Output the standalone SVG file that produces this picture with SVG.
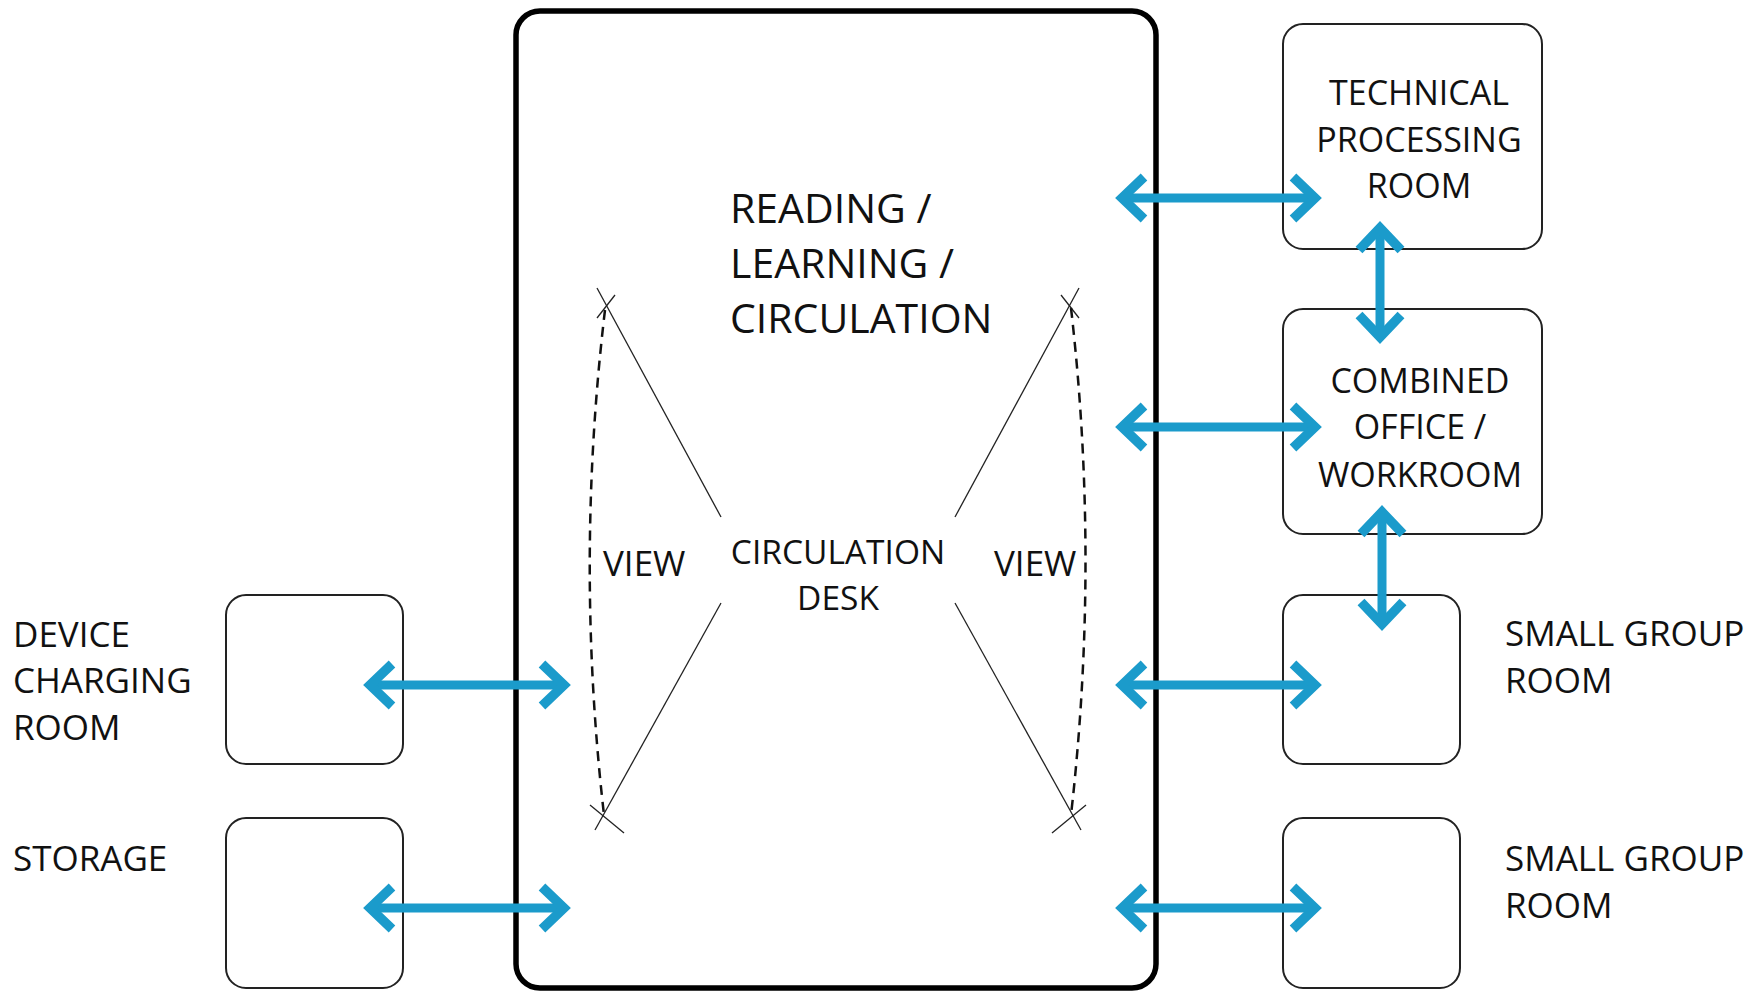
<svg xmlns="http://www.w3.org/2000/svg" width="1760" height="993" viewBox="0 0 1760 993">
<style>
  .room { fill: #ffffff; stroke: #222222; stroke-width: 2; }
  .main { fill: #ffffff; stroke: #000000; stroke-width: 5.5; }
  .lbl { font-family: "Open Sans", "Liberation Sans", sans-serif; fill: #111111; }
  .big { font-size: 41px; }
  .mid { font-size: 34px; }
  .sm { font-size: 35px; }
  .desk { font-size: 33.5px; }
  .link { stroke: #1b9bcb; stroke-width: 9; fill: none; marker-start: url(#chev); marker-end: url(#chev); }
  .sight { stroke: #222222; stroke-width: 1.3; fill: none; }
  .arc { stroke: #111111; stroke-width: 2.5; fill: none; stroke-dasharray: 10 7; }
</style>
<defs>
  <marker id="chev" markerUnits="userSpaceOnUse" viewBox="-40 -30 60 60" refX="0" refY="0" markerWidth="60" markerHeight="60" orient="auto-start-reverse" overflow="visible">
    <path d="M-22,-21 L0,0 L-22,21" fill="none" stroke="#1b9bcb" stroke-width="9.5" stroke-linejoin="miter" stroke-linecap="butt"/>
  </marker>
</defs>
<rect width="1760" height="993" fill="#ffffff"/>

<g id="reading-learning-circulation">
  <rect class="main" x="516" y="11" width="640" height="977" rx="24"/>
  <text class="lbl big" x="730" y="223">READING /</text>
  <text class="lbl big" x="730" y="278">LEARNING /</text>
  <text class="lbl big" x="730" y="333">CIRCULATION</text>
</g>

<g id="circulation-desk">
  <text class="lbl desk" x="838" y="564" text-anchor="middle">CIRCULATION</text>
  <text class="lbl desk" x="838" y="610" text-anchor="middle">DESK</text>
</g>

<g id="view-left">
  <path class="sight" d="M597,288 L721,517"/>
  <path class="sight" d="M721,603 L595,830"/>
  <path class="sight" d="M615,295 L597,318"/>
  <path class="sight" d="M590,805 L624,833"/>
  <path class="arc" d="M605,310 Q575,562 604,815"/>
  <text class="lbl sm" x="603" y="576">VIEW</text>
</g>

<g id="view-right">
  <path class="sight" d="M1079,288 L955,517"/>
  <path class="sight" d="M955,603 L1081,830"/>
  <path class="sight" d="M1061,295 L1079,318"/>
  <path class="sight" d="M1086,805 L1052,833"/>
  <path class="arc" d="M1071,308 Q1100,560 1071,815"/>
  <text class="lbl sm" x="994" y="576">VIEW</text>
</g>

<g id="technical-processing-room">
  <rect class="room" x="1283" y="24" width="259" height="225" rx="20"/>
  <text class="lbl mid" x="1419" y="105" text-anchor="middle">TECHNICAL</text>
  <text class="lbl mid" x="1419" y="152" text-anchor="middle">PROCESSING</text>
  <text class="lbl mid" x="1419" y="198" text-anchor="middle">ROOM</text>
</g>

<g id="combined-office-workroom">
  <rect class="room" x="1283" y="309" width="259" height="225" rx="20"/>
  <text class="lbl mid" x="1420" y="393" text-anchor="middle">COMBINED</text>
  <text class="lbl mid" x="1420" y="439" text-anchor="middle">OFFICE /</text>
  <text class="lbl mid" x="1420" y="487" text-anchor="middle">WORKROOM</text>
</g>

<g id="small-group-room-1">
  <rect class="room" x="1283" y="595" width="177" height="169" rx="20"/>
  <text class="lbl sm" x="1505" y="646">SMALL GROUP</text>
  <text class="lbl sm" x="1505" y="693">ROOM</text>
</g>

<g id="small-group-room-2">
  <rect class="room" x="1283" y="818" width="177" height="170" rx="20"/>
  <text class="lbl sm" x="1505" y="871">SMALL GROUP</text>
  <text class="lbl sm" x="1505" y="918">ROOM</text>
</g>

<g id="device-charging-room">
  <rect class="room" x="226" y="595" width="177" height="169" rx="20"/>
  <text class="lbl sm" x="13" y="647">DEVICE</text>
  <text class="lbl sm" x="13" y="693">CHARGING</text>
  <text class="lbl sm" x="13" y="740">ROOM</text>
</g>

<g id="storage">
  <rect class="room" x="226" y="818" width="177" height="170" rx="20"/>
  <text class="lbl sm" x="13" y="871">STORAGE</text>
</g>

<g id="connectors">
  <line class="link" x1="1122" y1="198" x2="1315" y2="198"/>
  <line class="link" x1="1122" y1="427" x2="1315" y2="427"/>
  <line class="link" x1="1122" y1="685" x2="1315" y2="685"/>
  <line class="link" x1="1122" y1="908" x2="1315" y2="908"/>
  <line class="link" x1="370" y1="685" x2="564" y2="685"/>
  <line class="link" x1="370" y1="908" x2="564" y2="908"/>
  <line class="link" x1="1380" y1="228" x2="1380" y2="337"/>
  <line class="link" x1="1382" y1="512" x2="1382" y2="624"/>
</g>
</svg>
